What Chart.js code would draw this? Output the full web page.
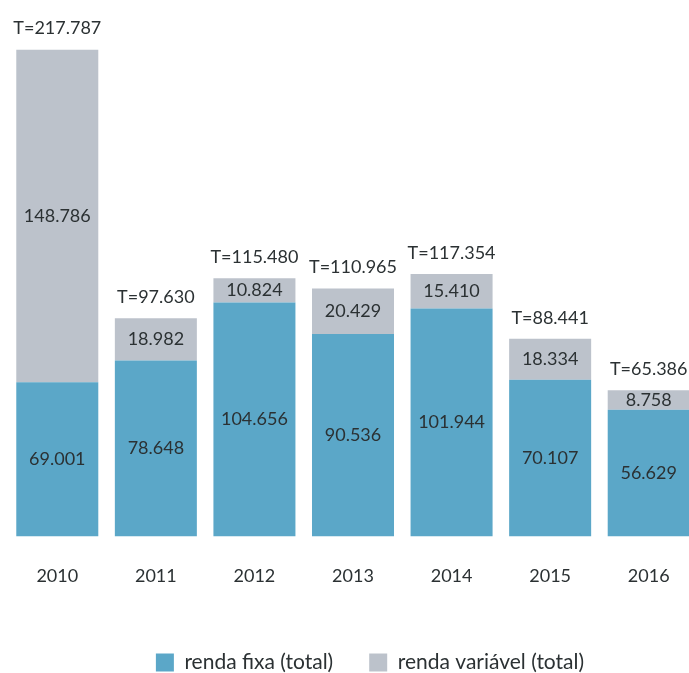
<!DOCTYPE html>
<html>
<head>
<meta charset="utf-8">
<script src="https://cdn.jsdelivr.net/npm/chart.js@4"></script>
<style>
    html, body { margin: 0; padding: 0; background: #fff; overflow: hidden; }
    #wrap { position: relative; width: 740px; height: 673px; }
</style>
</head>
<body>
<div id="wrap"><canvas id="chart" width="740" height="673"></canvas></div>
<script>
// Dati
const anni = ["2010", "2011", "2012", "2013", "2014", "2015", "2016"];
const rendaFixa = [69.001, 78.648, 104.656, 90.536, 101.944, 70.107, 56.629];
const rendaVariavel = [148.786, 18.982, 10.824, 20.429, 15.410, 18.334, 8.758];
const totali = [217.787, 97.630, 115.480, 110.965, 117.354, 88.441, 65.386];

const coloreTesto = "#2b3133";
const fonte = "Lato, 'Open Sans', sans-serif";

// Etichette dei valori dentro le barre e totali sopra
const etichette = {
    id: "etichette",
    afterDatasetsDraw(chart) {
        const ctx = chart.ctx;
        ctx.save();
        ctx.font = "18px " + fonte;
        ctx.fillStyle = coloreTesto;
        ctx.textAlign = "center";
        ctx.textBaseline = "middle";
        chart.data.datasets.forEach((ds, i) => {
            chart.getDatasetMeta(i).data.forEach((bar, j) => {
                ctx.fillText(ds.data[j].toFixed(3), bar.x, (bar.y + bar.base) / 2);
            });
        });
        chart.getDatasetMeta(1).data.forEach((bar, j) => {
            ctx.fillText("T=" + totali[j].toFixed(3), bar.x, bar.y - 21);
        });
        ctx.restore();
    }
};

new Chart(document.getElementById("chart"), {
    type: "bar",
    data: {
        labels: anni,
        datasets: [
            { label: "renda fixa (total)", data: rendaFixa, backgroundColor: "#5ba7c8" },
            { label: "renda variável (total)", data: rendaVariavel, backgroundColor: "#bcc2cb" }
        ]
    },
    options: {
        responsive: false,
        animation: false,
        devicePixelRatio: 1,
        layout: { padding: { top: 0, bottom: -10 } },
        datasets: { bar: { categoryPercentage: 1, barPercentage: 0.832 } },
        scales: {
            x: {
                stacked: true,
                grid: { display: false, drawTicks: false },
                border: { display: false },
                ticks: { color: coloreTesto, font: { family: fonte, size: 18 }, padding: 29 }
            },
            y: {
                stacked: true,
                min: 0,
                max: 240,
                grid: { display: false, drawTicks: false },
                border: { display: false },
                ticks: { display: false },
                afterFit: s => { s.width = 8; }
            },
            y2: {
                position: "right",
                grid: { display: false, drawTicks: false },
                border: { display: false },
                ticks: { display: false },
                afterFit: s => { s.width = 42; }
            }
        },
        plugins: {
            tooltip: { enabled: false },
            legend: {
                position: "bottom",
                labels: {
                    boxWidth: 18,
                    boxHeight: 18,
                    padding: 36,
                    color: coloreTesto,
                    font: { family: fonte, size: 21 }
                }
            }
        }
    },
    plugins: [etichette]
});
</script>
</body>
</html>
